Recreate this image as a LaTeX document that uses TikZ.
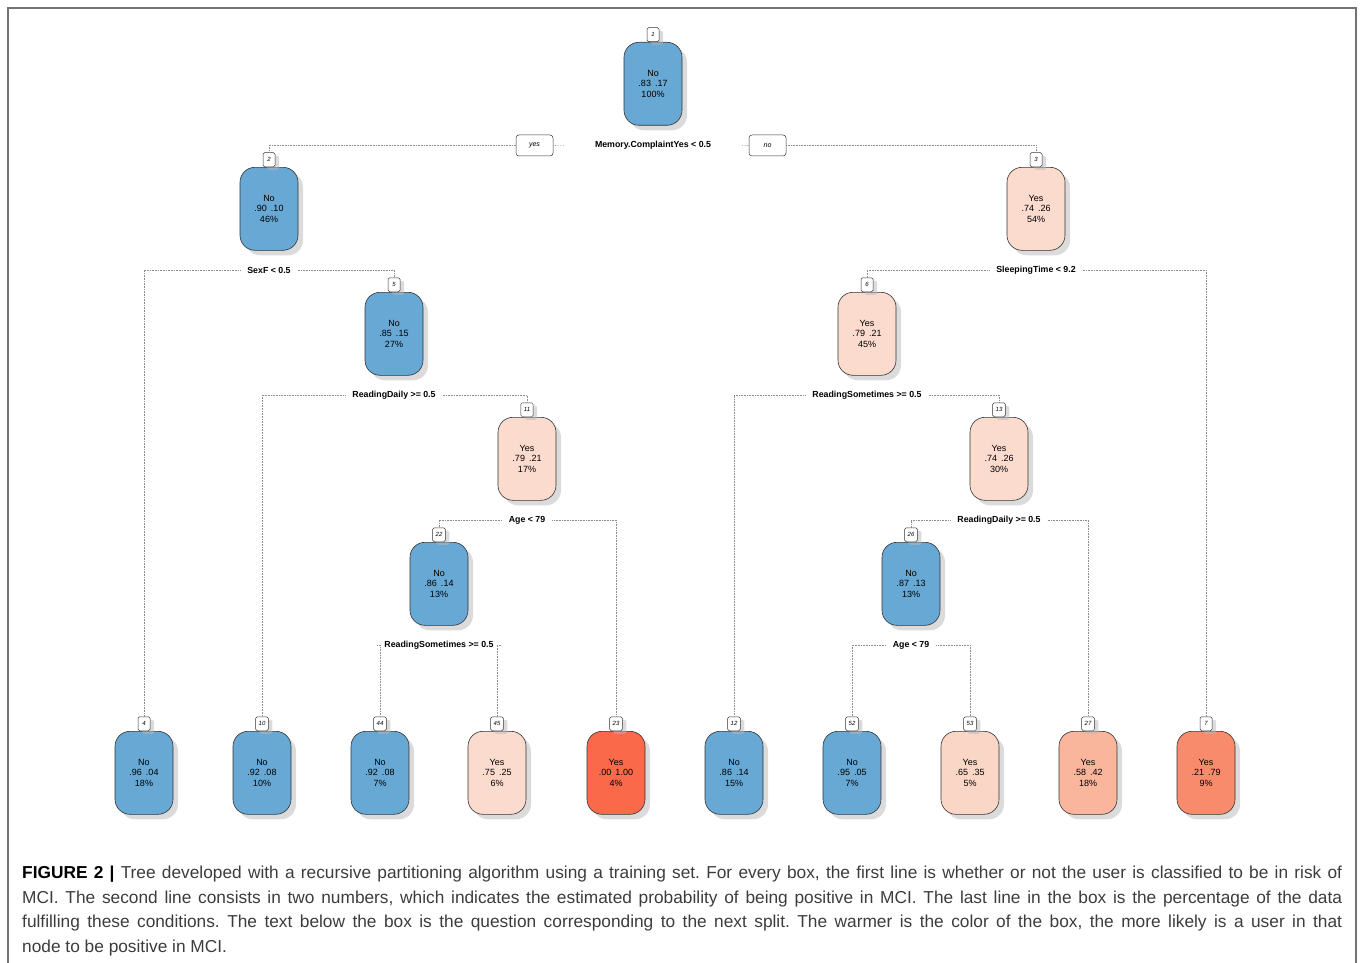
\documentclass[tikz,border=0pt]{standalone}
\usepackage{fontspec}
\setmainfont{Liberation Sans}
\usetikzlibrary{shadows}
\definecolor{nblue}{RGB}{103,168,212}
\definecolor{npinkA}{RGB}{251,219,206}
\definecolor{npinkB}{RGB}{250,214,199}
\definecolor{nsalmon}{RGB}{249,182,157}
\definecolor{norange}{RGB}{248,139,108}
\definecolor{nred}{RGB}{250,105,74}
\definecolor{capgray}{RGB}{60,60,60}
\tikzset{
  tbox/.style={draw=black!80, line width=0.6pt, rounded corners=15pt,
    minimum width=58pt, minimum height=83pt, inner sep=0pt, align=center,
    font=\fontsize{9}{10.5}\selectfont,
    drop shadow={shadow xshift=5pt, shadow yshift=-5pt, fill=black!28}},
  idbox/.style={draw=black!80, fill=white, line width=0.5pt, rounded corners=1.5pt,
    minimum width=12pt, minimum height=14pt, inner xsep=3pt, inner ysep=1pt,
    font=\fontsize{6}{7}\selectfont\itshape,
    drop shadow={shadow xshift=4pt, shadow yshift=-3pt, fill=black!28}},
  split/.style={font=\fontsize{8.8}{10}\selectfont\bfseries, inner xsep=7pt, inner ysep=2pt},
  ynbox/.style={draw=black!80, line width=0.5pt, rounded corners=3pt,
    minimum width=37pt, minimum height=21pt, inner sep=1pt,
    font=\fontsize{7}{8}\selectfont\itshape},
  dotline/.style={draw=black!45, densely dotted, line width=0.6pt},
}
\newcommand\tnode[8]{%
  \node[tbox, fill=#4, anchor=north] (#1) at (#2,#3) {#5\\#6\\#7};
  \node[idbox, anchor=south] (#1l) at (#1.north) {#8};
}
\newcommand\pp[2]{#1\hspace{4pt}#2}
\begin{document}
\begin{tikzpicture}[x=1pt,y=-1pt]
\useasboundingbox (0,0) rectangle (1360,963);
\draw[black!55, line width=1.5pt] (8,963) -- (8,8) -- (1356,8) -- (1356,963);

% internal nodes
\tnode{n1}{653}{42}{nblue}{No}{\pp{.83}{.17}}{100\%}{1}
\tnode{n2}{269}{167}{nblue}{No}{\pp{.90}{.10}}{46\%}{2}
\tnode{n3}{1036}{167}{npinkA}{Yes}{\pp{.74}{.26}}{54\%}{3}
\tnode{n5}{394}{292}{nblue}{No}{\pp{.85}{.15}}{27\%}{5}
\tnode{n6}{867}{292}{npinkA}{Yes}{\pp{.79}{.21}}{45\%}{6}
\tnode{n11}{527}{417}{npinkA}{Yes}{\pp{.79}{.21}}{17\%}{11}
\tnode{n13}{999}{417}{npinkA}{Yes}{\pp{.74}{.26}}{30\%}{13}
\tnode{n22}{439}{542}{nblue}{No}{\pp{.86}{.14}}{13\%}{22}
\tnode{n26}{911}{542}{nblue}{No}{\pp{.87}{.13}}{13\%}{26}
% leaves
\tnode{n4}{144}{731}{nblue}{No}{\pp{.96}{.04}}{18\%}{4}
\tnode{n10}{262}{731}{nblue}{No}{\pp{.92}{.08}}{10\%}{10}
\tnode{n44}{380}{731}{nblue}{No}{\pp{.92}{.08}}{7\%}{44}
\tnode{n45}{497}{731}{npinkA}{Yes}{\pp{.75}{.25}}{6\%}{45}
\tnode{n23}{616}{731}{nred}{Yes}{\pp{.00}{1.00}}{4\%}{23}
\tnode{n12}{734}{731}{nblue}{No}{\pp{.86}{.14}}{15\%}{12}
\tnode{n52}{852}{731}{nblue}{No}{\pp{.95}{.05}}{7\%}{52}
\tnode{n53}{970}{731}{npinkB}{Yes}{\pp{.65}{.35}}{5\%}{53}
\tnode{n27}{1088}{731}{nsalmon}{Yes}{\pp{.58}{.42}}{18\%}{27}
\tnode{n7}{1206}{731}{norange}{Yes}{\pp{.21}{.79}}{9\%}{7}

% split labels
\node[split] (s1) at (653,145) {Memory.ComplaintYes < 0.5};
\node[split] (s2) at (269,270) {SexF < 0.5};
\node[split] (s3) at (1036,270) {SleepingTime < 9.2};
\node[split] (s5) at (394,395) {ReadingDaily >= 0.5};
\node[split] (s6) at (867,395) {ReadingSometimes >= 0.5};
\node[split] (s11) at (527,520) {Age < 79};
\node[split] (s13) at (999,520) {ReadingDaily >= 0.5};
\node[split] (s22) at (439,645) {ReadingSometimes >= 0.5};
\node[split] (s26) at (911,645) {Age < 79};

\node[ynbox] (yes) at (534.5,145.5) {yes};
\node[ynbox] (no) at (767.5,145.5) {no};

% connectors
\draw[dotline] (yes.west) -| (n2l.north);
\draw[dotline, shorten <=24pt] (s1.west) -- (yes.east);
\draw[dotline, shorten <=24pt] (s1.east) -- (no.west);
\draw[dotline] (no.east) -| (n3l.north);
\draw[dotline] (s2.west) -| (n4l.north);
\draw[dotline] (s2.east) -| (n5l.north);
\draw[dotline] (s3.west) -| (n6l.north);
\draw[dotline] (s3.east) -| (n7l.north);
\draw[dotline] (s5.west) -| (n10l.north);
\draw[dotline] (s5.east) -| (n11l.north);
\draw[dotline] (s6.west) -| (n12l.north);
\draw[dotline] (s6.east) -| (n13l.north);
\draw[dotline] (s11.west) -| (n22l.north);
\draw[dotline] (s11.east) -| (n23l.north);
\draw[dotline] (s13.west) -| (n26l.north);
\draw[dotline] (s13.east) -| (n27l.north);
\draw[dotline] (s22.west) -| (n44l.north);
\draw[dotline] (s22.east) -| (n45l.north);
\draw[dotline] (s26.west) -| (n52l.north);
\draw[dotline] (s26.east) -| (n53l.north);

% caption
\node[anchor=north west, inner sep=0pt, text width=1320pt, align=justify,
  font=\fontsize{17.3}{24.5}\selectfont\frenchspacing, text=capgray] (cap) at (22,866)
  {{\color{black}\bfseries FIGURE 2 |} Tree developed with a recursive partitioning algorithm using a training set. For every box, the first line is whether or not the user is classified to be in risk of\linebreak MCI. The second line consists in two numbers, which indicates the estimated probability of being positive in MCI. The last line in the box is the percentage of the data\linebreak fulfilling these conditions. The text below the box is the question corresponding to the next split. The warmer is the color of the box, the more likely is a user in that\linebreak node to be positive in MCI.};
\end{tikzpicture}
\end{document}
